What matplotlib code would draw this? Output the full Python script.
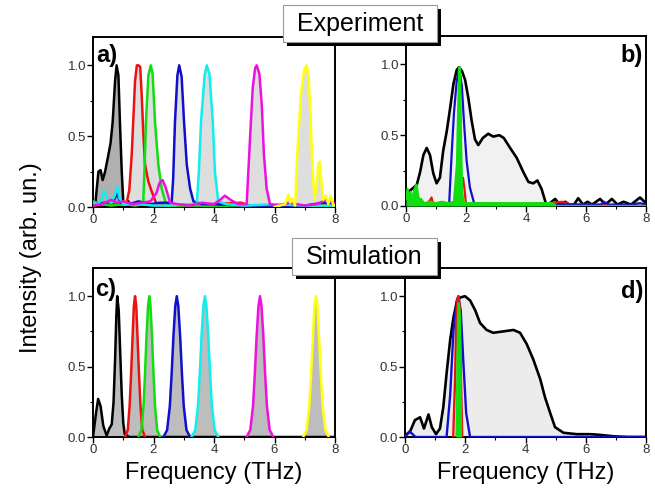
import numpy as np
import matplotlib
matplotlib.use("Agg")
import matplotlib.pyplot as plt
from matplotlib.patches import Rectangle
from matplotlib.ticker import MultipleLocator, FixedLocator

plt.rcParams['font.family'] = ['Liberation Sans', 'DejaVu Sans']

W, H = 655, 490

# ---- a) experiment, single-frequency pulses ----
a_black_f = [0.0, 0.07, 0.12, 0.18, 0.25, 0.32, 0.4, 0.51, 0.58, 0.65, 0.73, 0.78, 0.84, 0.89, 0.95, 1.0, 1.1, 1.17, 1.3, 1.6, 2.0, 2.5, 3.0, 3.5, 4.0, 5.0, 6.0, 7.0, 8.0]
a_black_i = [0.02, 0.0, 0.12, 0.25, 0.26, 0.19, 0.25, 0.37, 0.45, 0.6, 0.89, 1.0, 0.93, 0.6, 0.25, 0.04, 0.02, 0.04, 0.0, 0.01, 0.01, 0.02, 0.01, 0.01, 0.01, 0.01, 0.005, 0.01, 0.01]

a_red_f = [0.0, 0.5, 0.9, 1.11, 1.2, 1.28, 1.39, 1.45, 1.5, 1.56, 1.61, 1.67, 1.72, 1.83, 1.94, 2.1, 2.5, 3.0, 4.0, 4.9, 5.2, 6.0, 7.0, 8.0]
a_red_i = [0.01, 0.02, 0.02, 0.03, 0.12, 0.37, 0.89, 1.0, 1.0, 0.99, 0.79, 0.49, 0.3, 0.18, 0.11, 0.02, 0.01, 0.01, 0.02, 0.03, 0.01, 0.01, 0.01, 0.01]

a_green_f = [0.0, 0.3, 0.6, 1.0, 1.4, 1.66, 1.7, 1.75, 1.83, 1.91, 1.97, 2.05, 2.16, 2.27, 2.44, 2.8, 3.5, 4.5, 5.5, 6.5, 8.0]
a_green_i = [0.04, 0.02, 0.01, 0.02, 0.01, 0.02, 0.25, 0.6, 0.93, 1.0, 0.94, 0.6, 0.3, 0.13, 0.0, 0.01, 0.01, 0.0, 0.01, 0.01, 0.0]

a_blue_f = [0.0, 0.4, 0.7, 0.8, 0.9, 1.2, 1.5, 1.9, 2.2, 2.6, 2.65, 2.71, 2.79, 2.85, 2.93, 3.01, 3.1, 3.21, 3.32, 3.6, 4.0, 5.0, 6.0, 7.0, 7.6, 8.0]
a_blue_i = [0.02, 0.03, 0.05, 0.1, 0.03, 0.02, 0.04, 0.02, 0.03, 0.03, 0.2, 0.6, 0.93, 1.0, 0.92, 0.6, 0.3, 0.13, 0.04, 0.02, 0.02, 0.01, 0.01, 0.01, 0.03, 0.02]

a_cyan_f = [0.0, 0.15, 0.28, 0.38, 0.48, 0.6, 0.72, 0.8, 0.88, 1.0, 1.5, 2.0, 2.5, 3.0, 3.43, 3.5, 3.57, 3.69, 3.76, 3.85, 3.96, 4.03, 4.14, 4.4, 5.0, 6.0, 7.0, 8.0]
a_cyan_i = [0.03, 0.02, 0.05, 0.12, 0.05, 0.03, 0.08, 0.14, 0.06, 0.02, 0.02, 0.01, 0.01, 0.02, 0.02, 0.25, 0.6, 0.93, 1.0, 0.94, 0.6, 0.25, 0.04, 0.02, 0.01, 0.02, 0.01, 0.01]

a_mag_f = [0.0, 0.3, 0.6, 0.8, 1.0, 1.3, 1.6, 1.9, 2.1, 2.2, 2.3, 2.4, 2.55, 2.8, 3.2, 3.6, 4.0, 4.2, 4.36, 4.55, 4.8, 5.08, 5.19, 5.28, 5.36, 5.41, 5.5, 5.58, 5.65, 5.74, 5.85, 6.1, 6.5, 7.0, 7.4, 7.7, 8.0]
a_mag_i = [0.01, 0.02, 0.05, 0.03, 0.04, 0.02, 0.03, 0.04, 0.1, 0.17, 0.19, 0.14, 0.03, 0.02, 0.01, 0.03, 0.02, 0.05, 0.08, 0.05, 0.02, 0.02, 0.48, 0.84, 0.98, 1.0, 0.94, 0.72, 0.37, 0.13, 0.02, 0.01, 0.03, 0.01, 0.02, 0.05, 0.03]

a_yel_f = [6.0, 6.35, 6.46, 6.52, 6.58, 6.68, 6.75, 6.87, 6.98, 7.06, 7.13, 7.2, 7.26, 7.33, 7.39, 7.46, 7.5, 7.56, 7.61, 7.7, 7.78, 7.85, 7.95, 8.0]
a_yel_i = [0.0, 0.02, 0.09, 0.03, 0.06, 0.01, 0.37, 0.79, 0.97, 1.0, 0.92, 0.6, 0.25, 0.05, 0.16, 0.31, 0.32, 0.15, 0.05, 0.08, 0.02, 0.08, 0.01, 0.01]

# ---- b) experiment, broadband pulse ----
b_black_f = [0.0, 0.08, 0.2, 0.36, 0.47, 0.58, 0.69, 0.8, 0.91, 1.02, 1.13, 1.24, 1.36, 1.47, 1.58, 1.69, 1.77, 1.87, 1.97, 2.08, 2.19, 2.3, 2.41, 2.56, 2.74, 2.91, 3.11, 3.26, 3.47, 3.69, 3.91, 4.08, 4.24, 4.38, 4.52, 4.69, 4.8, 4.97, 5.13, 5.3, 5.45, 5.6, 5.74, 5.9, 6.05, 6.2, 6.47, 6.65, 6.86, 7.05, 7.25, 7.5, 7.8, 8.0]
b_black_i = [0.03, 0.1, 0.12, 0.15, 0.24, 0.36, 0.41, 0.36, 0.23, 0.16, 0.2, 0.39, 0.53, 0.69, 0.86, 0.96, 0.98, 0.95, 0.89, 0.76, 0.6, 0.47, 0.43, 0.48, 0.51, 0.49, 0.5, 0.48, 0.41, 0.34, 0.24, 0.17, 0.16, 0.18, 0.12, 0.0, 0.02, 0.05, 0.01, 0.03, 0.01, 0.01, 0.055, 0.01, 0.03, 0.01, 0.05, 0.01, 0.05, 0.01, 0.03, 0.01, 0.06, 0.02]

b_blue_f = [0.0, 0.5, 0.8, 1.2, 1.44, 1.52, 1.6, 1.69, 1.77, 1.86, 1.93, 2.02, 2.13, 2.27, 2.6, 3.5, 4.5, 5.5, 6.5, 6.6, 6.75, 7.5, 7.8, 8.0]
b_blue_i = [0.01, 0.01, 0.02, 0.01, 0.02, 0.36, 0.66, 0.88, 0.97, 0.85, 0.6, 0.32, 0.13, 0.02, 0.02, 0.01, 0.01, 0.01, 0.01, 0.03, 0.01, 0.01, 0.02, 0.01]

b_red_f = [0.0, 0.7, 0.8, 0.85, 0.9, 1.2, 1.6, 1.68, 1.72, 1.76, 1.8, 1.86, 1.9, 1.95, 2.0, 2.3, 3.0, 4.0, 4.8, 5.2, 5.5, 6.0, 8.0]
b_red_i = [0.01, 0.02, 0.04, 0.06, 0.02, 0.02, 0.02, 0.1, 0.05, 0.2, 0.05, 0.18, 0.2, 0.12, 0.01, 0.01, 0.01, 0.01, 0.02, 0.03, 0.01, 0.01, 0.0]

b_green_f = [0.0, 0.05, 0.1, 0.15, 0.2, 0.25, 0.3, 0.35, 0.4, 0.45, 0.5, 0.6, 0.8, 1.0, 1.2, 1.4, 1.6, 1.7, 1.73, 1.76, 1.78, 1.8, 1.82, 1.84, 1.87, 1.92, 2.0, 2.5, 3.0, 3.5, 4.0, 4.5, 4.9, 5.0, 8.0]
b_green_i = [0.05, 0.12, 0.06, 0.1, 0.04, 0.09, 0.13, 0.15, 0.08, 0.03, 0.05, 0.02, 0.03, 0.02, 0.03, 0.02, 0.03, 0.3, 0.6, 0.85, 0.98, 0.95, 0.7, 0.4, 0.1, 0.03, 0.02, 0.02, 0.02, 0.02, 0.02, 0.02, 0.02, 0.0, 0.0]

# ---- c) simulation, single-frequency pulses ----
c_black_f = [0.0, 0.1, 0.17, 0.25, 0.34, 0.45, 0.54, 0.62, 0.68, 0.73, 0.77, 0.8, 0.85, 0.9, 0.95, 1.0, 1.05, 1.2, 8.0]
c_black_i = [0.0, 0.17, 0.27, 0.22, 0.08, 0.01, 0.06, 0.09, 0.25, 0.55, 0.85, 1.0, 0.9, 0.6, 0.3, 0.1, 0.02, 0.0, 0.0]

# all simulated single-frequency peaks share the same normalised profile
c_peak_i = [0.0, 0.05, 0.22, 0.45, 0.72, 0.93, 1.0, 0.93, 0.72, 0.45, 0.22, 0.05, 0.0]
c_red_f = [1.06, 1.15, 1.21, 1.26, 1.31, 1.35, 1.39, 1.43, 1.47, 1.52, 1.57, 1.63, 1.72]
c_green_f = [1.5, 1.6, 1.67, 1.72, 1.77, 1.82, 1.86, 1.9, 1.95, 2.0, 2.05, 2.12, 2.22]
c_blue_f = [2.33, 2.45, 2.54, 2.6, 2.66, 2.72, 2.77, 2.82, 2.88, 2.94, 3.0, 3.09, 3.21]
c_cyan_f = [3.26, 3.38, 3.47, 3.53, 3.59, 3.65, 3.7, 3.75, 3.81, 3.87, 3.93, 4.02, 4.14]
c_mag_f = [5.08, 5.2, 5.29, 5.35, 5.41, 5.47, 5.52, 5.57, 5.63, 5.69, 5.75, 5.84, 5.96]
c_yel_f = [6.95, 7.06, 7.15, 7.21, 7.27, 7.32, 7.37, 7.42, 7.47, 7.53, 7.59, 7.68, 7.79]

# ---- d) simulation, broadband pulse ----
d_black_f = [0.0, 0.17, 0.33, 0.5, 0.63, 0.78, 0.89, 1.03, 1.16, 1.27, 1.38, 1.5, 1.61, 1.72, 1.83, 1.99, 2.16, 2.33, 2.49, 2.71, 2.93, 3.27, 3.6, 3.82, 4.04, 4.26, 4.49, 4.65, 4.82, 4.98, 5.26, 5.7, 6.15, 6.48, 6.92, 7.4, 8.0]
d_black_i = [0.01, 0.04, 0.12, 0.14, 0.06, 0.16, 0.07, 0.02, 0.06, 0.21, 0.45, 0.69, 0.85, 0.96, 0.99, 1.0, 0.97, 0.9, 0.81, 0.76, 0.74, 0.75, 0.76, 0.74, 0.66, 0.55, 0.41, 0.28, 0.17, 0.07, 0.03, 0.02, 0.02, 0.015, 0.005, 0.0, 0.0]

d_blue_f = [0.0, 0.08, 0.15, 0.25, 0.35, 1.2, 1.38, 1.5, 1.61, 1.72, 1.77, 1.85, 1.94, 2.03, 2.16, 3.0, 8.0]
d_blue_i = [0.0, 0.02, 0.04, 0.02, 0.0, 0.0, 0.0, 0.3, 0.76, 0.97, 1.0, 0.9, 0.52, 0.17, 0.0, 0.0, 0.0]
d_red_f = [1.6, 1.66, 1.7, 1.74, 1.78, 1.82, 1.86, 1.9]
d_red_i = [0.0, 0.4, 0.8, 0.98, 1.0, 0.9, 0.4, 0.0]
d_green_f = [1.7, 1.73, 1.75, 1.77, 1.8, 1.83, 1.85, 1.87]
d_green_i = [0.0, 0.5, 0.85, 0.95, 0.95, 0.85, 0.5, 0.0]

RED, GREEN, BLUE, CYAN, MAG, YEL = '#ee1111', '#11dd11', '#1010cc', '#11eeee', '#ee11dd', '#ffff11'


def fx(px):
    return px / W


def fy(py):
    return 1 - py / H


def make_axes(x0, x1, y0, y1):
    # pixel box -> figure axes
    ax = fig.add_axes([fx(x0), fy(y1), (x1 - x0) / W, (y1 - y0) / H])
    ax.set_xlim(0, 8)
    ax.set_ylim(0, 1.2)
    ax.xaxis.set_major_locator(MultipleLocator(2))
    ax.xaxis.set_minor_locator(MultipleLocator(1))
    ax.yaxis.set_major_locator(FixedLocator([0, 0.5, 1.0]))
    ax.yaxis.set_minor_locator(FixedLocator([0.25, 0.75]))
    ax.set_yticklabels(['0.0', '0.5', '1.0'])
    ax.tick_params(which='major', direction='out', length=4, width=1,
                   labelsize=9.5, labelcolor='#333333', pad=1)
    ax.tick_params(which='minor', direction='out', length=2.5, width=0.8)
    for s in ax.spines.values():
        s.set_linewidth(1.4)
    return ax


def peak(ax, f, i, color, fill, lw=1.8, z=3):
    ax.fill_between(f, i, 0, color=fill, lw=0, zorder=1)
    ax.plot(f, i, color=color, lw=lw, zorder=z)


fig = plt.figure(figsize=(W / 100, H / 100), dpi=100)

# a)
ax = make_axes(93, 335, 37, 207)
light = '#dedede'
peak(ax, a_red_f, a_red_i, RED, light)
peak(ax, a_green_f, a_green_i, GREEN, light)
peak(ax, a_blue_f, a_blue_i, BLUE, light)
peak(ax, a_cyan_f, a_cyan_i, CYAN, light)
peak(ax, a_mag_f, a_mag_i, MAG, light)
peak(ax, a_yel_f, a_yel_i, YEL, light)
peak(ax, a_black_f, a_black_i, 'black', '#b0b0b0', z=2)

# b)
ax = make_axes(406, 646, 36, 206)
peak(ax, b_black_f, b_black_i, 'black', '#f1f1f1', lw=1.9)
ax.plot(b_red_f, b_red_i, color=RED, lw=1.6, zorder=3)
ax.plot(b_blue_f, b_blue_i, color=BLUE, lw=1.6, zorder=3)
ax.fill_between(b_green_f, b_green_i, 0, color=GREEN, lw=0, zorder=4)
ax.plot(b_green_f, b_green_i, color=GREEN, lw=1.6, zorder=4)

# c)
ax = make_axes(93, 335, 268, 437)
mid = '#bdbdbd'
peak(ax, c_black_f, c_black_i, 'black', mid)
peak(ax, c_red_f, c_peak_i, RED, mid)
peak(ax, c_green_f, c_peak_i, GREEN, mid)
peak(ax, c_blue_f, c_peak_i, BLUE, mid)
peak(ax, c_cyan_f, c_peak_i, CYAN, mid)
peak(ax, c_mag_f, c_peak_i, MAG, mid)
peak(ax, c_yel_f, c_peak_i, YEL, mid)
ax.set_xlabel('Frequency (THz)', fontsize=17, labelpad=4)

# d)
ax = make_axes(405, 646, 268, 437)
peak(ax, d_black_f, d_black_i, 'black', '#ececec', lw=1.9)
ax.plot(d_blue_f, d_blue_i, color=BLUE, lw=1.7, zorder=3)
ax.plot(d_red_f, d_red_i, color=RED, lw=1.7, zorder=3)
ax.fill_between(d_green_f, d_green_i, 0, color=GREEN, lw=0, zorder=4)
ax.plot(d_green_f, d_green_i, color=GREEN, lw=1.2, zorder=4)
ax.set_xlabel('Frequency (THz)', fontsize=17, labelpad=4)

# panel letters
fig.text(fx(96), fy(44), 'a)', fontsize=17, fontweight='bold', va='top', ha='left')
fig.text(fx(643), fy(44), 'b)', fontsize=17, fontweight='bold', va='top', ha='right')
fig.text(fx(95), fy(278), 'c)', fontsize=17, fontweight='bold', va='top', ha='left')
fig.text(fx(643), fy(280), 'd)', fontsize=17, fontweight='bold', va='top', ha='right')

fig.text(fx(31), fy(258), 'Intensity (arb. un.)', fontsize=17, rotation=90,
         ha='center', va='center')


def header(x0, x1, y0, y1, label):
    # white label box with a black drop shadow
    fig.patches.append(Rectangle((fx(x0 + 4), fy(y1 + 4)), (x1 - x0) / W, (y1 - y0) / H,
                                 transform=fig.transFigure, facecolor='black',
                                 edgecolor='none', zorder=5))
    fig.patches.append(Rectangle((fx(x0), fy(y1)), (x1 - x0) / W, (y1 - y0) / H,
                                 transform=fig.transFigure, facecolor='white',
                                 edgecolor='#999999', lw=0.8, zorder=6))
    fig.text(fx((x0 + x1) / 2), fy((y0 + y1) / 2), label, fontsize=18,
             ha='center', va='center', zorder=7)


header(283, 437, 5, 42, 'Experiment')
header(292, 437, 238, 275, 'Simulation')

fig.savefig('out.png', dpi=100)
